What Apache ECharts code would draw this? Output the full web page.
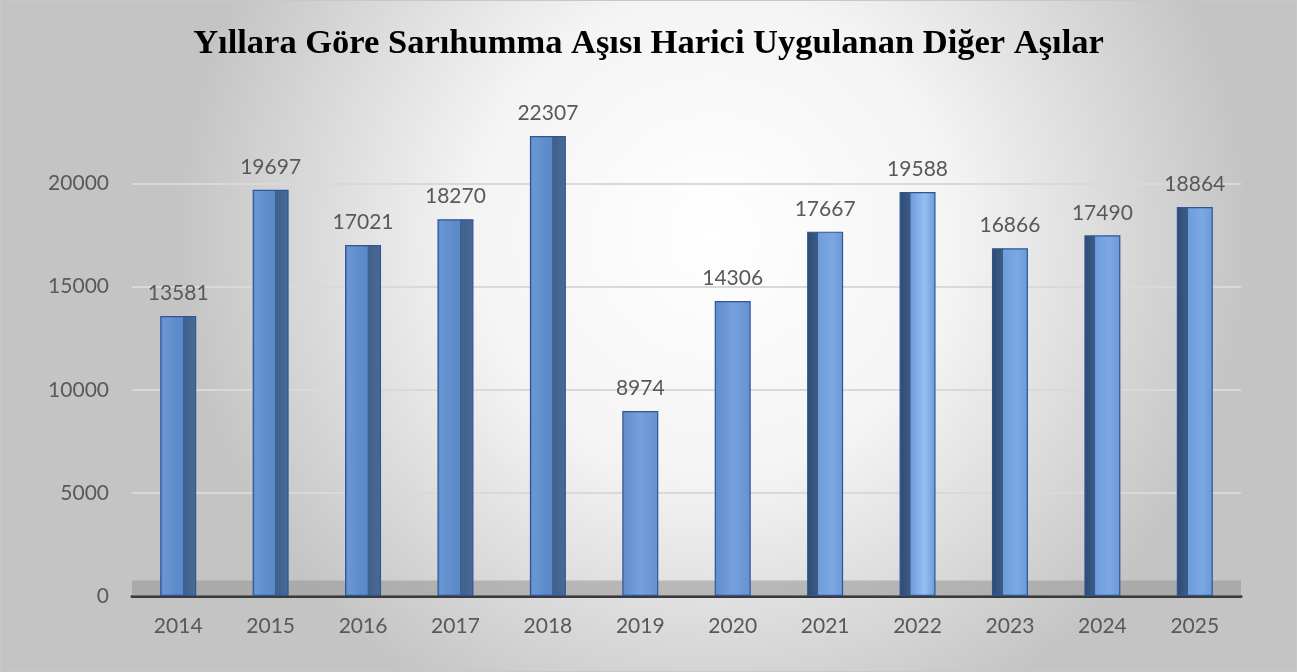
<!DOCTYPE html>
<html>
<head>
<meta charset="utf-8">
<title>Yıllara Göre Sarıhumma Aşısı Harici Uygulanan Diğer Aşılar</title>
<script src="https://cdn.jsdelivr.net/npm/echarts@6/dist/echarts.min.js"></script>
<style>
  html, body { margin: 0; padding: 0; background: #ffffff; }
  #chart { width: 1295px; height: 670px; border: 1px solid #c8c8c8; }
</style>
</head>
<body>
<div id="chart"></div>
<script>
// yıllar ve değerler
const years = ['2014', '2015', '2016', '2017', '2018', '2019', '2020', '2021', '2022', '2023', '2024', '2025'];
const counts = [13581, 19697, 17021, 18270, 22307, 8974, 14306, 17667, 19588, 16866, 17490, 18864];
const yTicks = [0, 5000, 10000, 15000, 20000];

// 3B görünüm: soldaki çubukların yan yüzü sağda, sağdakilerin solda
function barColor(i) {
  if (i < 5) {
    return new echarts.graphic.LinearGradient(0, 0, 1, 0, [
      { offset: 0, color: '#4f7ebf' },
      { offset: 0.08, color: '#6a97d3' },
      { offset: 0.4, color: '#5f8dcc' },
      { offset: 0.62, color: '#5a88c8' },
      { offset: 0.63, color: '#3f5f8c' },
      { offset: 1, color: '#4a6b96' }
    ]);
  }
  if (i < 7) {
    return new echarts.graphic.LinearGradient(0, 0, 1, 0, [
      { offset: 0, color: '#5f8dcc' },
      { offset: 0.5, color: '#75a0da' },
      { offset: 1, color: '#6592d0' }
    ]);
  }
  return new echarts.graphic.LinearGradient(0, 0, 1, 0, [
    { offset: 0, color: '#2f4a70' },
    { offset: 0.3, color: '#3b5c88' },
    { offset: 0.31, color: '#6f9ddb' },
    { offset: 0.7, color: i === 8 ? '#95bff2' : '#7ba8e2' },
    { offset: 1, color: '#6b99d6' }
  ]);
}

const chart = echarts.init(document.getElementById('chart'));

const option = {
  backgroundColor: {
    type: 'radial', x: 0.55, y: 0.35, r: 0.8,
    colorStops: [
      { offset: 0, color: '#ffffff' },
      { offset: 0.45, color: '#f4f4f4' },
      { offset: 1, color: '#c4c4c4' }
    ]
  },
  title: {
    text: 'Yıllara Göre Sarıhumma Aşısı Harici Uygulanan Diğer Aşılar',
    left: 'center',
    top: 21,
    textStyle: {
      fontFamily: '"Liberation Serif", "DejaVu Serif", serif',
      fontWeight: 'bold',
      fontSize: 34.5,
      color: '#000000'
    }
  },
  grid: { left: 131, right: 55, top: 131, bottom: 75 },
  xAxis: {
    type: 'category',
    data: years,
    axisTick: { show: false },
    axisLine: { lineStyle: { color: '#3a3a3a', width: 3 } },
    axisLabel: {
      margin: 20,
      color: '#595959',
      fontSize: 21,
      fontFamily: 'Lato, "Noto Sans", sans-serif'
    }
  },
  yAxis: {
    type: 'value',
    min: 0,
    max: 22500,
    interval: 5000,
    axisLine: { show: false },
    axisTick: { show: false },
    axisLabel: {
      margin: 23,
      color: '#595959',
      fontSize: 21,
      fontFamily: 'Lato, "Noto Sans", sans-serif',
      showMaxLabel: false,
      formatter: v => (yTicks.indexOf(v) >= 0 ? String(v) : '')
    },
    splitLine: { showMaxLine: false, lineStyle: { color: '#d9d9d9', width: 2 } }
  },
  series: [{
    type: 'bar',
    barWidth: 36,
    data: counts.map((v, i) => ({
      value: v,
      itemStyle: { color: barColor(i), borderColor: '#2f5597', borderWidth: 1.2 }
    })),
    label: {
      show: true,
      position: 'top',
      distance: 12,
      color: '#595959',
      fontSize: 21,
      fontFamily: 'Lato, "Noto Sans", sans-serif'
    },
    markArea: {
      silent: true,
      itemStyle: { color: 'rgba(150,150,150,0.55)' },
      data: [[{ yAxis: 0 }, { yAxis: 750 }]]
    },
    z: 3
  }]
};

chart.setOption(option);
</script>
</body>
</html>
